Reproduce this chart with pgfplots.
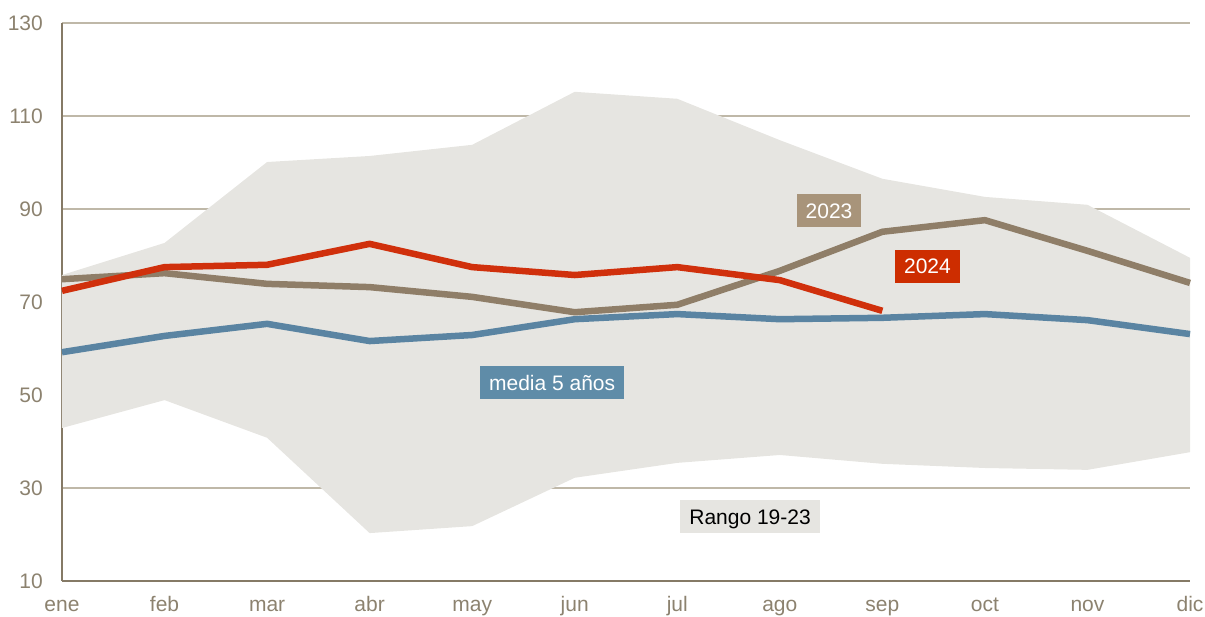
\documentclass[border=0pt]{standalone}
\usepackage{fontspec}
\setmainfont{Liberation Sans}
\usepackage{pgfplots}
\pgfplotsset{compat=1.18}
\usepgfplotslibrary{fillbetween}
\definecolor{bandc}{HTML}{E6E5E1}
\definecolor{c23}{HTML}{8F7E68}
\definecolor{c23box}{HTML}{A8947A}
\definecolor{c24}{HTML}{D0300C}
\definecolor{c24box}{HTML}{CD2D00}
\definecolor{cmed}{HTML}{5A84A2}
\definecolor{cmedbox}{HTML}{5F8CA8}
\definecolor{ctick}{HTML}{8C826F}
\definecolor{cgrid}{HTML}{BFB8A8}
\definecolor{caxis}{HTML}{857A66}
\begin{document}
\begin{tikzpicture}
\path (-62pt,-36pt) rectangle (1143pt,581pt);
\begin{axis}[
  scale only axis,
  width=1128pt, height=558pt,
  xmin=0, xmax=11, ymin=10, ymax=130,
  axis x line*=bottom, axis y line*=left,
  axis line style={caxis, line width=2.5pt},
  xtick={0,...,11},
  xticklabels={ene,feb,mar,abr,may,jun,jul,ago,sep,oct,nov,dic},
  ytick={10,30,50,70,90,110,130},
  yticklabels={10,30,50,70,90,110,130},
  major tick length=0pt,
  ymajorgrids,
  major grid style={cgrid, line width=1.3pt},
  tick label style={font=\fontsize{21}{24}\selectfont, text=ctick},
  xticklabel style={anchor=north, inner sep=0pt, text height=15pt, text depth=0pt, yshift=-15pt},
  yticklabel style={anchor=east, inner sep=0pt, xshift=-19pt},
  clip=false,
]
\addplot[name path=up, draw=none] coordinates {
(0,75.8) (1,82.7) (2,100.1) (3,101.4) (4,103.8) (5,115.2) (6,113.7) (7,104.8) (8,96.5) (9,92.6) (10,90.9) (11,79.5)};
\addplot[name path=lo, draw=none] coordinates {
(0,42.9) (1,48.9) (2,40.8) (3,20.3) (4,21.8) (5,32.2) (6,35.4) (7,37.1) (8,35.2) (9,34.3) (10,33.9) (11,37.7)};
\addplot[fill=bandc, draw=none] fill between[of=up and lo];
% media 5 anos
\addplot[cmed, line width=6.5pt, line join=round] coordinates {
(0,59.2) (1,62.7) (2,65.3) (3,61.6) (4,62.9) (5,66.3) (6,67.4) (7,66.3) (8,66.6) (9,67.4) (10,66.1) (11,63.1)};
% 2023
\addplot[c23, line width=6.5pt, line join=round] coordinates {
(0,74.9) (1,76.2) (2,73.9) (3,73.2) (4,71.1) (5,67.8) (6,69.4) (7,76.7) (8,85.1) (9,87.6) (10,81.0) (11,74.1)};
% 2024
\addplot[c24, line width=6.5pt, line join=round] coordinates {
(0,72.4) (1,77.5) (2,78.0) (3,82.5) (4,77.5) (5,75.8) (6,77.5) (7,74.7) (8,68.1)};
\tikzset{lab/.style={font=\fontsize{21}{24}\selectfont, inner xsep=9pt, inner ysep=0pt, minimum height=33pt, text height=15pt, text depth=0pt}}
\node[lab, fill=c23box, text=white] at (axis cs:7.48,89.6) {2023};
\node[lab, fill=c24box, text=white] at (axis cs:8.44,77.7) {2024};
\node[lab, fill=cmedbox, text=white] at (axis cs:4.78,52.6) {media 5 años};
\node[lab, fill=bandc, text=black] at (axis cs:6.71,23.8) {Rango 19-23};
\end{axis}
\end{tikzpicture}
\end{document}
